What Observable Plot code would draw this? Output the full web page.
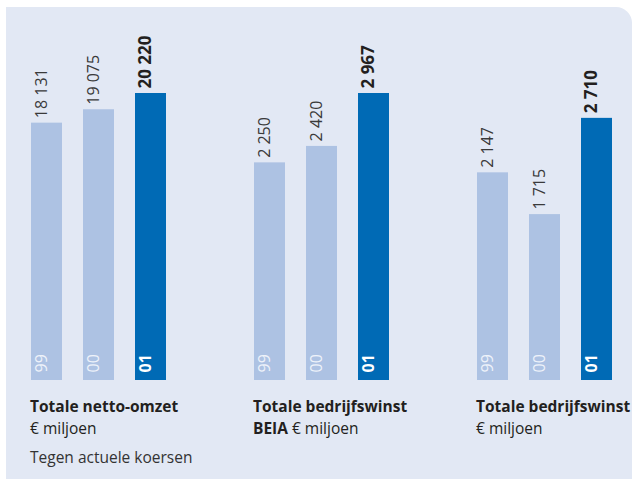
<!DOCTYPE html>
<html><head><meta charset="utf-8">
<script src="https://cdn.jsdelivr.net/npm/d3@7"></script>
<script src="https://cdn.jsdelivr.net/npm/@observablehq/plot@0.6"></script>
<style>
body{margin:0;background:#fff;font-family:"Open Sans",sans-serif;}
#wrap{position:relative;width:632px;height:479px;overflow:hidden;background:#fff;}
#panel{position:absolute;left:6px;top:7px;right:0;bottom:0;background:#e2e8f4;border-top-right-radius:16px;}
.chart{position:absolute;top:0;}
.t{position:absolute;font-size:15.5px;color:#231f20;white-space:nowrap;line-height:20px;}
.b{font-weight:700;}
</style></head><body>
<div id="wrap"><div id="panel"></div></div>
<script>
const years = ["99", "00", "01"];
const omzet = [18131, 19075, 20220];
const beia = [2250, 2420, 2967];
const winst = [2147, 1715, 2710];
const titles1 = ["Totale netto-omzet", "Totale bedrijfswinst", "Totale bedrijfswinst"];
const titles2a = ["", "BEIA", ""];
const titles2b = ["€ miljoen", " € miljoen", "€ miljoen"];
const note = "Tegen actuele koersen";

const light = "#adc2e3", dark = "#006ab5", labelColor = "#3a3a3a";
const fmt = d3.formatLocale({thousands: "\u2009", grouping: [3], decimal: ","}).format(",");
const fmtS = v => fmt(v).replace(/\u2009/g, " ");

const panels = [
  {values: omzet, left: 10, max: d3.max(omzet)},
  {values: beia, left: 233, max: d3.max(beia)},
  {values: winst, left: 456, max: d3.max(beia)}
];

const wrap = document.getElementById("wrap");
panels.forEach((p, i) => {
  const data = years.map((y, k) => ({year: y, value: p.values[k]}));
  const last = data.filter(d => d.year === "01");
  const rest = data.filter(d => d.year !== "01");
  const chart = Plot.plot({
    width: 176, height: 479,
    marginLeft: 20, marginRight: 20, marginTop: 93, marginBottom: 99,
    style: {background: "transparent", overflow: "visible", fontFamily: "Open Sans"},
    x: {domain: years, axis: null, paddingInner: 0.41, paddingOuter: 0},
    y: {domain: [0, p.max], axis: null},
    color: {domain: years, range: [light, light, dark]},
    marks: [
      Plot.barY(data, {x: "year", y: "value", fill: "year"}),
      Plot.text(rest, {x: "year", y: "value", text: d => fmtS(d.value), rotate: -90, textAnchor: "start", lineAnchor: "bottom", dy: -5, fontSize: 16, fill: labelColor}),
      Plot.text(last, {x: "year", y: "value", text: d => fmtS(d.value), rotate: -90, textAnchor: "start", lineAnchor: "bottom", dy: -5, fontSize: 17, fontWeight: "bold", fill: "#231f20"}),
      Plot.text(rest, {x: "year", frameAnchor: "bottom", text: "year", rotate: -90, textAnchor: "start", lineAnchor: "bottom", dy: -8, fontSize: 16, fill: "#eef2fa"}),
      Plot.text(last, {x: "year", frameAnchor: "bottom", text: "year", rotate: -90, textAnchor: "start", lineAnchor: "bottom", dy: -8, fontSize: 16, fontWeight: "bold", fill: "#ffffff"})
    ]
  });
  chart.classList.add("chart");
  chart.style.left = p.left + "px";
  wrap.appendChild(chart);

  const x0 = p.left + 20;
  const t1 = document.createElement("div");
  t1.className = "t b"; t1.style.left = x0 + "px"; t1.style.top = "396px";
  t1.textContent = titles1[i];
  wrap.appendChild(t1);
  const t2 = document.createElement("div");
  t2.className = "t"; t2.style.left = x0 + "px"; t2.style.top = "418px";
  if (titles2a[i]) { const s = document.createElement("span"); s.className = "b"; s.textContent = titles2a[i]; t2.appendChild(s); }
  t2.appendChild(document.createTextNode(titles2b[i]));
  wrap.appendChild(t2);
  if (i === 0) {
    const t3 = document.createElement("div");
    t3.className = "t"; t3.style.left = x0 + "px"; t3.style.top = "447px";
    t3.style.color = "#333";
    t3.textContent = note;
    wrap.appendChild(t3);
  }
});
</script>
</body></html>
